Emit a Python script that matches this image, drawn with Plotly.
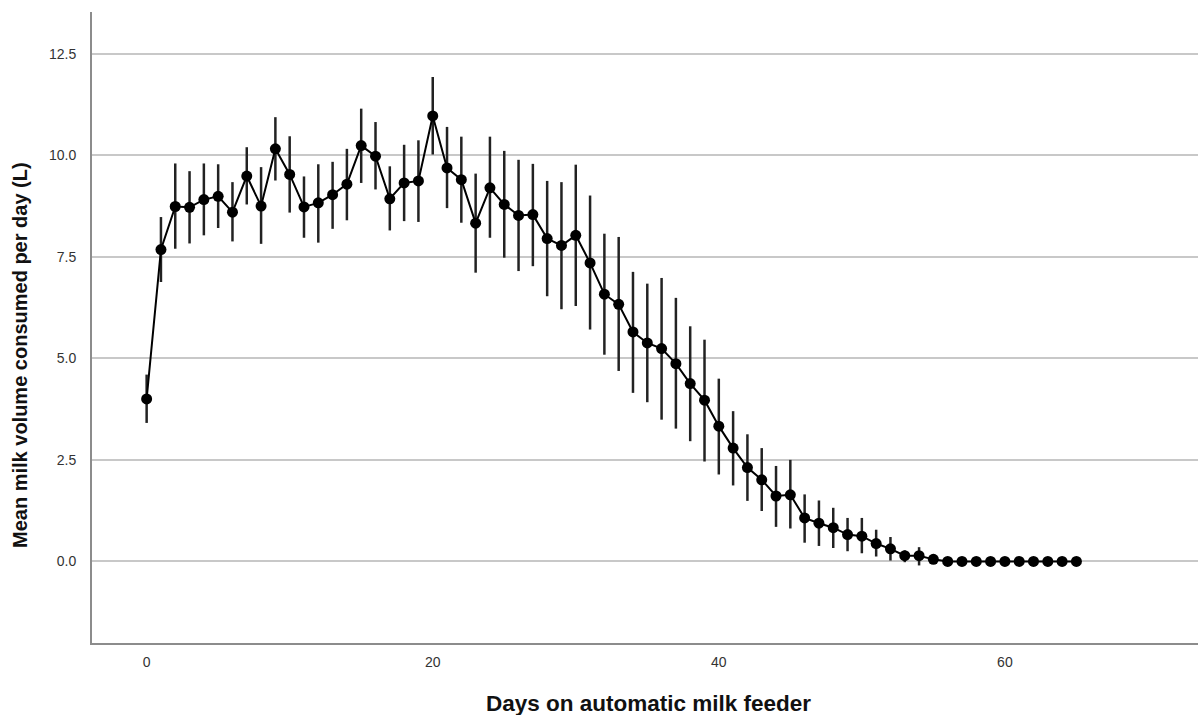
import plotly.graph_objects as go

days = list(range(0, 66))
mean_volume = [4.00, 7.68, 8.74, 8.72, 8.91, 8.99, 8.60, 9.49, 8.75, 10.16,
               9.53, 8.73, 8.83, 9.03, 9.29, 10.24, 9.98, 8.93, 9.32, 9.37,
               10.97, 9.69, 9.40, 8.33, 9.20, 8.79, 8.52, 8.54, 7.95, 7.78,
               8.03, 7.35, 6.58, 6.33, 5.65, 5.38, 5.24, 4.87, 4.38, 3.97,
               3.33, 2.79, 2.31, 2.01, 1.61, 1.64, 1.07, 0.94, 0.83, 0.66,
               0.62, 0.44, 0.31, 0.14, 0.14, 0.05,
               0, 0, 0, 0, 0, 0, 0, 0, 0, 0]
ci_upper = [4.60, 8.48, 9.80, 9.61, 9.80, 9.78, 9.34, 10.20, 9.71, 10.94,
            10.47, 9.48, 9.78, 9.84, 10.16, 11.15, 10.82, 9.73, 10.26, 10.37,
            11.93, 10.70, 10.46, 9.55, 10.46, 10.11, 9.89, 9.79, 9.37, 9.34,
            9.77, 9.01, 8.07, 7.99, 7.13, 6.84, 6.98, 6.49, 5.79, 5.46,
            4.50, 3.70, 3.13, 2.79, 2.35, 2.50, 1.65, 1.50, 1.32, 1.07,
            1.07, 0.78, 0.60, 0.27, 0.35, 0.12,
            0, 0, 0, 0, 0, 0, 0, 0, 0, 0]
ci_lower = [3.41, 6.88, 7.70, 7.83, 8.03, 8.21, 7.88, 8.79, 7.82, 9.38,
            8.59, 7.97, 7.85, 8.19, 8.40, 9.32, 9.16, 8.15, 8.38, 8.36,
            10.02, 8.70, 8.34, 7.11, 7.97, 7.48, 7.15, 7.27, 6.53, 6.21,
            6.29, 5.71, 5.09, 4.69, 4.15, 3.92, 3.49, 3.27, 2.96, 2.46,
            2.14, 1.87, 1.49, 1.24, 0.85, 0.81, 0.46, 0.38, 0.33, 0.25,
            0.20, 0.12, 0.02, -0.02, -0.10, -0.02,
            0, 0, 0, 0, 0, 0, 0, 0, 0, 0]
y_ticks = [0.0, 2.5, 5.0, 7.5, 10.0, 12.5]
y_tick_labels = ["0.0", "2.5", "5.0", "7.5", "10.0", "12.5"]
x_ticks = [0, 20, 40, 60]

err_plus = [u - m for u, m in zip(ci_upper, mean_volume)]
err_minus = [m - l for m, l in zip(mean_volume, ci_lower)]

fig = go.Figure()
fig.add_trace(go.Scatter(
    x=days, y=mean_volume, mode="lines+markers",
    line=dict(color="#000000", width=2),
    marker=dict(color="#000000", size=11),
    error_y=dict(type="data", symmetric=False, array=err_plus,
                 arrayminus=err_minus, color="#222222", thickness=2.5,
                 width=0),
    showlegend=False,
))

font_family = "Liberation Sans, Arial, sans-serif"

fig.update_layout(
    width=1198, height=715,
    margin=dict(l=92, r=0, t=12, b=72),
    paper_bgcolor="white", plot_bgcolor="white",
    font=dict(family=font_family, color="#333333", size=14),
    xaxis=dict(range=[-3.82, 73.5], tickvals=x_ticks,
               showgrid=False, zeroline=False,
               showline=True, linecolor="#8c8c8c", linewidth=2,
               ticks="", ticklabelstandoff=5,
               tickfont=dict(size=14, color="#333333")),
    yaxis=dict(range=[-2.01, 13.53], tickvals=y_ticks, ticktext=y_tick_labels,
               showgrid=True, gridcolor="#c8c8c8", gridwidth=1.5,
               zeroline=False,
               showline=True, linecolor="#8c8c8c", linewidth=2,
               ticks="", ticklabelstandoff=11,
               tickfont=dict(size=14, color="#333333")),
    annotations=[
        dict(text="<b>Days on automatic milk feeder</b>", xref="paper",
             yref="paper", x=(648 - 92) / 1106, y=(643 - 703) / 631,
             xanchor="center", yanchor="middle", showarrow=False,
             font=dict(family=font_family, size=22.5, color="#111111")),
        dict(text="<b>Mean milk volume consumed per day (L)</b>",
             xref="paper", yref="paper", x=(20 - 92) / 1106,
             y=(643 - 355) / 631, xanchor="center", yanchor="middle",
             textangle=-90, showarrow=False,
             font=dict(family=font_family, size=20, color="#111111")),
    ],
)

fig.write_html("out.html")
